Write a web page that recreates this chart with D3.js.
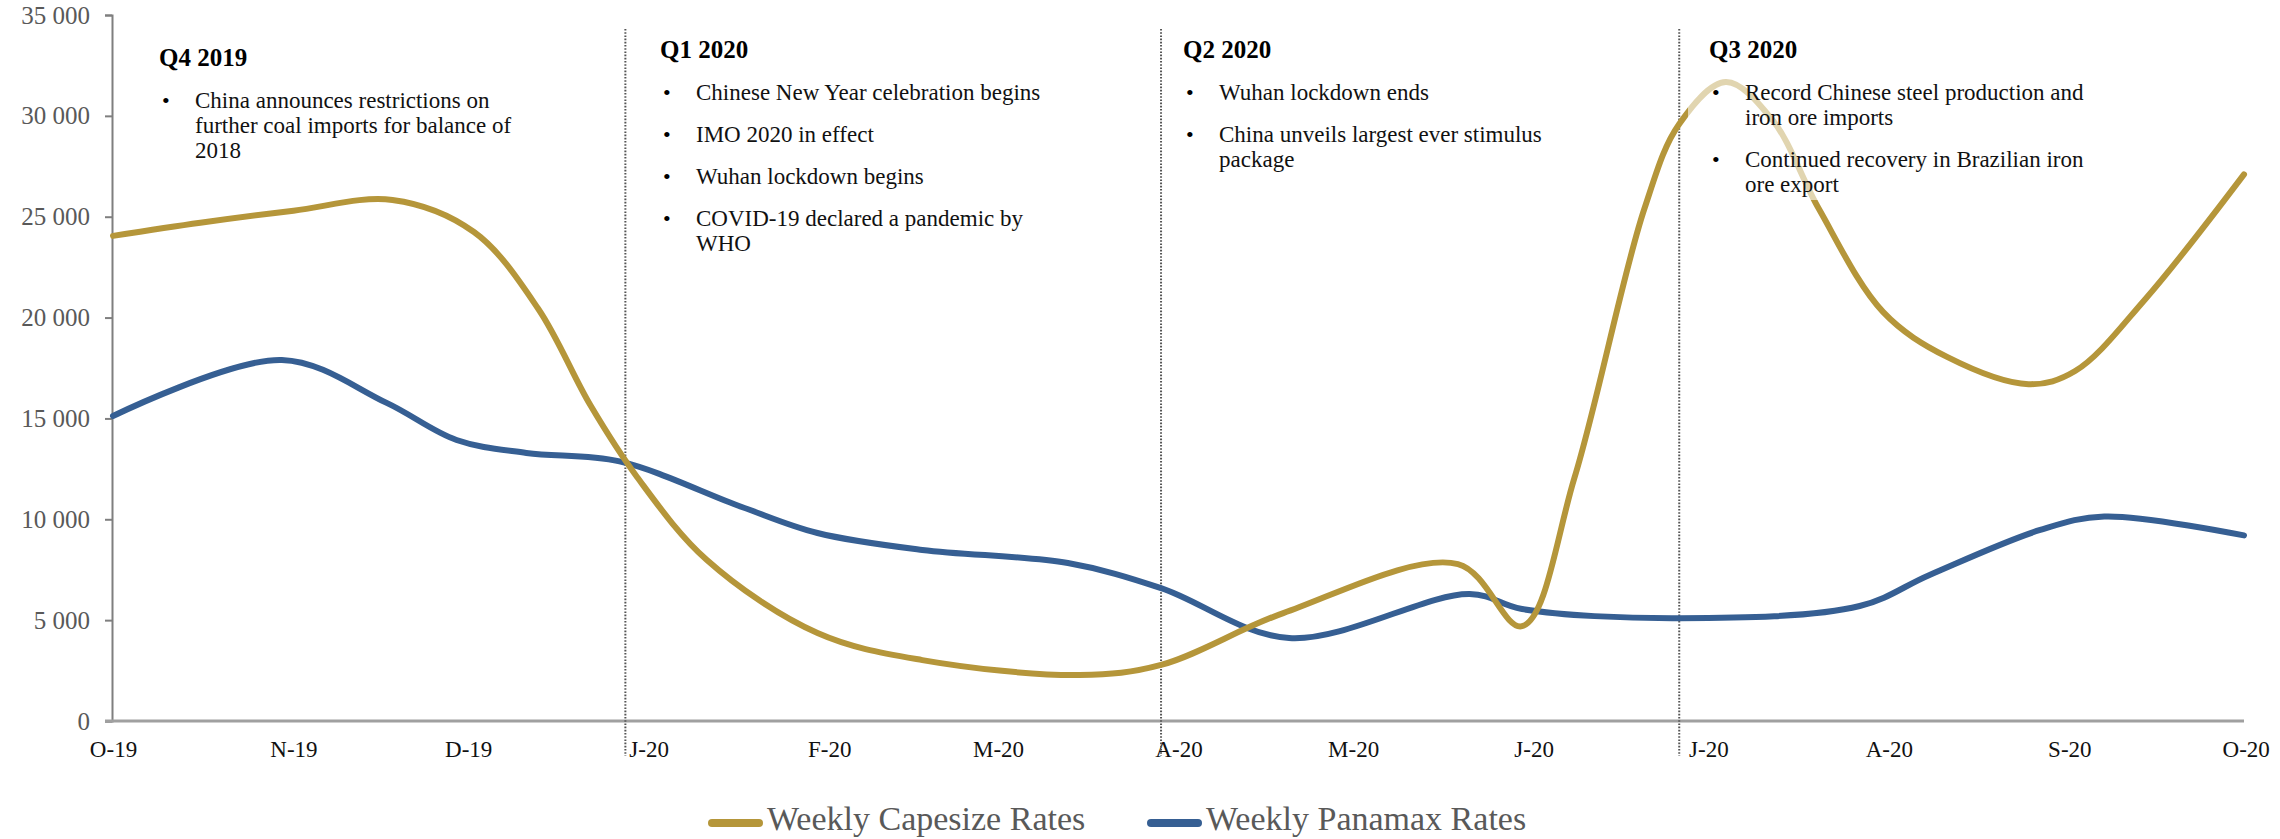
<!DOCTYPE html>
<html>
<head>
<meta charset="utf-8">
<script src="https://cdn.jsdelivr.net/npm/d3@7"></script>
<style>
  html, body { margin: 0; padding: 0; background: #ffffff; }
  svg { display: block; }
  text { font-family: "Liberation Serif", "Times New Roman", serif; }
</style>
</head>
<body>
<svg id="chart" width="2280" height="839"></svg>
<script>
// Weekly dry bulk time-charter rates (USD/day), Oct 2019 – Oct 2020
const capesizeDates = [
  "2019-10-01", "2019-10-16", "2019-11-01", "2019-11-18", "2019-12-02", "2019-12-13",
  "2019-12-22", "2019-12-30", "2020-01-11", "2020-01-30", "2020-02-17",
  "2020-03-15", "2020-03-29", "2020-04-19", "2020-05-19", "2020-05-30", "2020-06-08",
  "2020-06-20", "2020-06-26", "2020-07-04", "2020-07-12", "2020-07-20", "2020-07-31",
  "2020-08-11", "2020-08-25", "2020-09-02", "2020-09-14", "2020-10-01"
];
const capesizeRates = [
  24050, 24700, 25300, 25830, 24240, 20450,
  15650, 12100, 7980, 4360, 3020,
  2280, 2780, 5350, 7780, 4700, 12050,
  25380, 29600, 31680, 29800, 25380, 20280,
  18050, 16700, 17350, 20900, 27100
];

const panamaxDates = [
  "2019-10-01", "2019-10-30", "2019-11-17", "2019-11-29", "2019-12-11",
  "2019-12-27", "2020-01-17", "2020-01-30", "2020-02-17", "2020-03-13", "2020-03-29",
  "2020-04-20", "2020-05-21", "2020-05-30", "2020-06-26",
  "2020-07-27", "2020-08-08", "2020-08-27", "2020-09-07", "2020-10-01"
];
const panamaxRates = [
  15120, 17900, 15770, 13930, 13290,
  12870, 10610, 9320, 8480, 7830, 6590,
  4110, 6300, 5550, 5100,
  5700, 7240, 9470, 10140, 9200
];

const seriesNames = ["Weekly Capesize Rates", "Weekly Panamax Rates"];

// Axis ticks
const tickDates = [
  "2019-10-01", "2019-11-01", "2019-12-01", "2020-01-01", "2020-02-01", "2020-03-01", "2020-04-01",
  "2020-05-01", "2020-06-01", "2020-07-01", "2020-08-01", "2020-09-01", "2020-10-01"
];
const tickLabels = ["O-19", "N-19", "D-19", "J-20", "F-20", "M-20", "A-20", "M-20", "J-20", "J-20", "A-20", "S-20", "O-20"];
const yTicks = [0, 5000, 10000, 15000, 20000, 25000, 30000, 35000];

// Quarter boundaries and the events noted in each quarter
const quarterBreaks = ["2019-12-28", "2020-03-29", "2020-06-26"];
const quarterTitles = ["Q4 2019", "Q1 2020", "Q2 2020", "Q3 2020"];
const quarterNotes = [
  [["China announces restrictions on", "further coal imports for balance of", "2018"]],
  [["Chinese New Year celebration begins"], ["IMO 2020 in effect"], ["Wuhan lockdown begins"],
   ["COVID-19 declared a pandemic by", "WHO"]],
  [["Wuhan lockdown ends"], ["China unveils largest ever stimulus", "package"]],
  [["Record Chinese steel production and", "iron ore imports"],
   ["Continued recovery in Brazilian iron", "ore export"]]
];

// ---- layout ----
const colors = { cape: "#B5963A", pana: "#365F93" };
const parse = d3.utcParse("%Y-%m-%d");
const svg = d3.select("#chart");

const x = d3.scaleUtc()
  .domain([parse("2019-10-01"), parse("2020-10-01")])
  .range([113, 2244]);
const y = d3.scaleLinear().domain([0, 35000]).range([721, 15]);

const fmt = d3.formatLocale({ decimal: ".", thousands: " ", grouping: [3], currency: ["", ""] }).format(",");

// Y axis
const yAxis = svg.append("g")
  .attr("transform", "translate(112,0)")
  .call(d3.axisLeft(y).tickValues(yTicks).tickFormat(fmt).tickSize(7).tickPadding(15));
yAxis.select(".domain").attr("stroke", "#7f7f7f").attr("stroke-width", 2);
yAxis.selectAll(".tick line").attr("stroke", "#7f7f7f").attr("stroke-width", 2);
yAxis.selectAll(".tick text")
  .attr("fill", "#595959").attr("font-size", 25).style("font-family", "'Liberation Serif', serif");

// X axis
const xAxis = svg.append("g")
  .attr("transform", "translate(0,721)")
  .call(d3.axisBottom(x).tickValues(tickDates.map(parse))
    .tickFormat((d, i) => tickLabels[i]).tickSize(0).tickPadding(20));
xAxis.select(".domain").attr("stroke", "#a0a0a0").attr("stroke-width", 3)
  .attr("d", `M105,0H${x.range()[1]}`);
xAxis.selectAll(".tick text")
  .attr("fill", "#111").attr("font-size", 23).style("font-family", "'Liberation Serif', serif");
// keep the last month label inside the canvas
xAxis.selectAll(".tick:last-of-type text").attr("text-anchor", "end").attr("dx", "1.1em");

// Quarter dividers
svg.append("g").selectAll("line")
  .data(quarterBreaks.map(parse))
  .join("line")
  .attr("x1", d => x(d)).attr("x2", d => x(d))
  .attr("y1", 29).attr("y2", 756)
  .attr("stroke", "#555").attr("stroke-width", 2)
  .attr("stroke-dasharray", "1.6 1.6");

// Series lines
const line = d3.line()
  .x(d => x(d[0]))
  .y(d => y(d[1]))
  .curve(d3.curveCatmullRom.alpha(0.5));

const series = [
  { color: colors.pana, pts: panamaxDates.map((d, i) => [parse(d), panamaxRates[i]]) },
  { color: colors.cape, pts: capesizeDates.map((d, i) => [parse(d), capesizeRates[i]]) }
];
svg.append("g").selectAll("path")
  .data(series)
  .join("path")
  .attr("d", d => line(d.pts))
  .attr("fill", "none")
  .attr("stroke", d => d.color)
  .attr("stroke-width", 6)
  .attr("stroke-linecap", "round")
  .attr("stroke-linejoin", "round");

// Event notes, one text box per quarter
const boxes = [
  { x: 159, top: 66, w: 430, h: 130 },
  { x: 660, top: 58, w: 480, h: 215 },
  { x: 1183, top: 58, w: 460, h: 140 },
  { x: 1709, top: 58, w: 400, h: 172 }
];
const notes = svg.append("g");
quarterTitles.forEach((title, qi) => {
  const b = boxes[qi];
  const g = notes.append("g");
  g.append("rect")
    .attr("x", b.x - 21).attr("y", b.top - 30)
    .attr("width", b.w).attr("height", b.h)
    .attr("fill", "#ffffff").attr("fill-opacity", 0.6);
  g.append("text")
    .attr("x", b.x).attr("y", b.top)
    .attr("font-size", 25).attr("font-weight", "bold").attr("fill", "#000")
    .text(title);
  let base = b.top + 42;
  quarterNotes[qi].forEach(lines => {
    g.append("text")
      .attr("x", b.x + 3).attr("y", base)
      .attr("font-size", 22).attr("fill", "#000")
      .text("\u2022");
    lines.forEach((ln, li) => {
      g.append("text")
        .attr("x", b.x + 36).attr("y", base + li * 25)
        .attr("font-size", 23).attr("fill", "#111")
        .text(ln);
    });
    base += (lines.length - 1) * 25 + 42;
  });
});

// Legend
const legend = svg.append("g");
const legendItems = [
  { name: seriesNames[0], color: colors.cape, x: 712 },
  { name: seriesNames[1], color: colors.pana, x: 1151 }
];
legendItems.forEach(it => {
  legend.append("line")
    .attr("x1", it.x).attr("x2", it.x + 47)
    .attr("y1", 823).attr("y2", 823)
    .attr("stroke", it.color).attr("stroke-width", 8).attr("stroke-linecap", "round");
  legend.append("text")
    .attr("x", it.x + 55).attr("y", 830)
    .attr("font-size", 34).attr("fill", "#595959")
    .text(it.name);
});
</script>
</body>
</html>
